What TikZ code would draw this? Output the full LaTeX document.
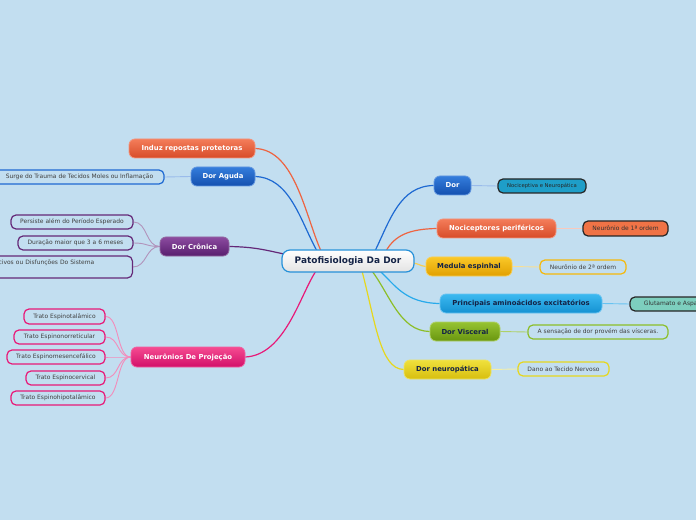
\documentclass[tikz,border=0pt]{standalone}
\usepackage{fontspec}
\setmainfont{DejaVu Sans}
\usetikzlibrary{backgrounds,calc}
\definecolor{bgc}{RGB}{194,222,240}
\definecolor{navy}{RGB}{20,35,70}
\definecolor{blueT}{RGB}{52,125,220}\definecolor{blueB}{RGB}{20,80,175}\definecolor{blueL}{RGB}{30,105,210}
\definecolor{oraT}{RGB}{244,125,90}\definecolor{oraB}{RGB}{215,75,40}\definecolor{oraL}{RGB}{238,100,65}
\definecolor{yelT}{RGB}{250,200,40}\definecolor{yelB}{RGB}{225,160,0}\definecolor{yelL}{RGB}{245,185,10}
\definecolor{cyaT}{RGB}{60,185,240}\definecolor{cyaB}{RGB}{20,145,210}\definecolor{cyaL}{RGB}{40,170,235}
\definecolor{grnT}{RGB}{150,195,50}\definecolor{grnB}{RGB}{105,150,15}\definecolor{grnL}{RGB}{140,190,40}
\definecolor{ylwT}{RGB}{240,225,60}\definecolor{ylwB}{RGB}{215,190,15}\definecolor{ylwL}{RGB}{230,215,30}
\definecolor{purT}{RGB}{140,75,160}\definecolor{purB}{RGB}{88,30,110}\definecolor{purL}{RGB}{100,40,120}
\definecolor{pnkT}{RGB}{245,75,145}\definecolor{pnkB}{RGB}{210,15,105}\definecolor{pnkL}{RGB}{232,25,120}
\definecolor{tealF}{RGB}{30,158,200}
\definecolor{glutF}{RGB}{125,207,190}
\definecolor{neu1F}{RGB}{240,115,70}
\tikzset{
  root/.style={rounded corners=8bp, inner sep=0, minimum width=132bp, minimum height=22bp,
    top color=white, bottom color=gray!22, draw=blue!40!cyan!70!gray, line width=1.2bp,
    font=\fontsize{9}{10}\selectfont\bfseries, text=navy},
  br/.style n args={4}{rounded corners=6bp, inner sep=0, minimum height=19bp,
    top color=#1, bottom color=#2, draw=#3, line width=0.8bp,
    font=\fontsize{6.9}{8}\selectfont\bfseries, text=#4},
  leaf/.style={rounded corners=5bp, inner sep=0, minimum height=14bp, draw=#1, line width=1.2bp,
    font=\fontsize{6}{7}\selectfont, text=black!75},
  main/.style={line width=1.2bp, draw=#1},
  sub/.style={line width=0.9bp, draw=#1},
}
\begin{document}
\begin{tikzpicture}[x=1bp,y=-1bp]
\useasboundingbox (0,0) rectangle (696,520);
% central
\node[root] (c) at (348,261) {Patofisiologia Da Dor};
% right branches
\node[br={blueT}{blueB}{blueL!70!white}{white}, minimum width=37bp] (dor) at (452.5,185.5) {Dor};
\node[leaf=black!85, fill=tealF, minimum width=88bp, font=\fontsize{5.3}{6}\selectfont, text=black!85] (noc) at (542,186) {Nociceptiva e Neuropática};
\node[br={oraT}{oraB}{oraL!70!white}{white}, minimum width=119bp] (nocp) at (496.5,228.5) {Nociceptores periféricos};
\node[leaf=black!85, fill=neu1F, minimum width=85bp, minimum height=15bp, text=black!80] (n1) at (625.5,228.5) {Neurônio de 1ª ordem};
\node[br={yelT}{yelB}{yelL!70!white}{navy}, minimum width=86bp] (med) at (469,266.5) {Medula espinhal};
\node[leaf=yelL, minimum width=86bp] (n2) at (583,267) {Neurônio de 2ª ordem};
\node[br={cyaT}{cyaB}{cyaL!70!white}{navy}, minimum width=162bp] (pri) at (521,303.5) {Principais aminoácidos excitatórios};
\node[leaf=black!85, fill=glutF, minimum width=96bp, text=black!80] (glu) at (678,304) {Glutamato e Aspartato};
\node[br={grnT}{grnB}{grnL!70!white}{navy}, minimum width=70bp] (vis) at (465,331.5) {Dor Visceral};
\node[leaf=grnL, minimum width=140bp] (sen) at (598,332) {A sensação de dor provém das vísceras.};
\node[br={ylwT}{ylwB}{ylwL!70!white}{navy}, minimum width=87bp] (neu) at (447.5,369.5) {Dor neuropática};
\node[leaf=ylwL, minimum width=91bp] (dan) at (563.5,369) {Dano ao Tecido Nervoso};
% left branches
\node[br={oraT}{oraB}{oraL!70!white}{white}, minimum width=126bp] (ind) at (192,148.5) {Induz repostas protetoras};
\node[br={blueT}{blueB}{blueL!70!white}{white}, minimum width=64bp] (agu) at (223,176.5) {Dor Aguda};
\node[leaf=blueL, minimum width=169bp] (sur) at (79.5,177) {Surge do Trauma de Tecidos Moles ou Inflamação};
\node[br={purT}{purB}{purL!70!white}{white}, minimum width=69bp] (cro) at (194.5,246.5) {Dor Crônica};
\node[leaf=purL, minimum width=122bp] (per) at (72,222) {Persiste além do Período Esperado};
\node[leaf=purL, minimum width=115bp] (dur) at (75.5,243) {Duração maior que 3 a 6 meses};
\node[leaf=purL, anchor=east, minimum height=22bp, inner xsep=38bp, text width=150bp, align=right, text height=4bp, text depth=8bp] (dis) at (133,267) {Nocivos ou Disfunções Do Sistema};
\node[br={pnkT}{pnkB}{pnkL!70!white}{white}, minimum width=114bp, minimum height=20bp] (pro) at (188,357) {Neurônios De Projeção};
\node[leaf=pnkL, minimum width=81bp, minimum height=15bp] (t1) at (64.5,316.5) {Trato Espinotalâmico};
\node[leaf=pnkL, minimum width=91bp] (t2) at (59.5,337) {Trato Espinonorreticular};
\node[leaf=pnkL, minimum width=98bp] (t3) at (56,357) {Trato Espinomesencefálico};
\node[leaf=pnkL, minimum width=79bp] (t4) at (65.5,378) {Trato Espinocervical};
\node[leaf=pnkL, minimum width=94bp] (t5) at (58,398) {Trato Espinohipotalâmico};
% connectors
\begin{scope}[on background layer]
\fill[bgc] (0,0) rectangle (696,520);
\coordinate (cI) at ($(c.center)+(-27,-10)$);
\coordinate (cA) at ($(c.center)+(-31,-10)$);
\coordinate (cC) at ($(c.center)+(-64,-7)$);
\coordinate (cP) at ($(c.center)+(-32,10)$);
\coordinate (cD) at ($(c.center)+(27,-10)$);
\coordinate (cN) at ($(c.center)+(38,-10)$);
\coordinate (cM) at ($(c.center)+(64,2)$);
\coordinate (cR) at ($(c.center)+(32,10)$);
\coordinate (cV) at ($(c.center)+(24,10)$);
\coordinate (cY) at ($(c.center)+(14,10)$);
\draw[main=oraL] (ind.east) .. controls (295,150) and (305,215) .. (cI);
\draw[main=blueL] (agu.east) .. controls (290,178) and (300,220) .. (cA);
\draw[main=purL] (cro.east) .. controls (255,247) and (265,250) .. (cC);
\draw[main=pnkL] (pro.east) .. controls (285,355) and (300,295) .. (cP);
\draw[main=blueL] (dor.west) .. controls (400,186) and (390,220) .. (cD);
\draw[main=oraL] (nocp.west) .. controls (410,229) and (395,235) .. (cN);
\draw[main=yelL!70!white] (med.west) .. controls (420,266) and (418,263) .. (cM);
\draw[main=cyaL] (pri.west) .. controls (405,303) and (395,285) .. (cR);
\draw[main=grnL] (vis.west) .. controls (400,331) and (390,295) .. (cV);
\draw[main=ylwL] (neu.west) .. controls (380,369) and (375,320) .. (cY);
% sub connectors
\draw[sub=blueL!45!white] (dor.east) -- (noc.west);
\draw[sub=oraL!35!white] (nocp.east) -- (n1.west);
\draw[sub=yelL!45!white] (med.east) -- (n2.west);
\draw[sub=cyaL!70!white] (pri.east) -- (glu.west);
\draw[sub=grnL!70!white] (vis.east) -- (sen.west);
\draw[sub=ylwL!40!white] (neu.east) -- (dan.west);
\draw[sub=blueL!45!white] (agu.west) -- (sur.east);
\foreach \t in {per,dur,dis}
  \draw[sub=purL!50!white] (cro.west) .. controls ($(cro.west)+(-14,0)$) and ($(\t.east)+(14,0)$) .. (\t.east);
\foreach \t in {t1,t2,t3,t4,t5}
  \draw[sub=pnkL!50!white] (pro.west) .. controls ($(pro.west)+(-14,0)$) and ($(\t.east)+(14,0)$) .. (\t.east);
\end{scope}
\end{tikzpicture}
\end{document}
